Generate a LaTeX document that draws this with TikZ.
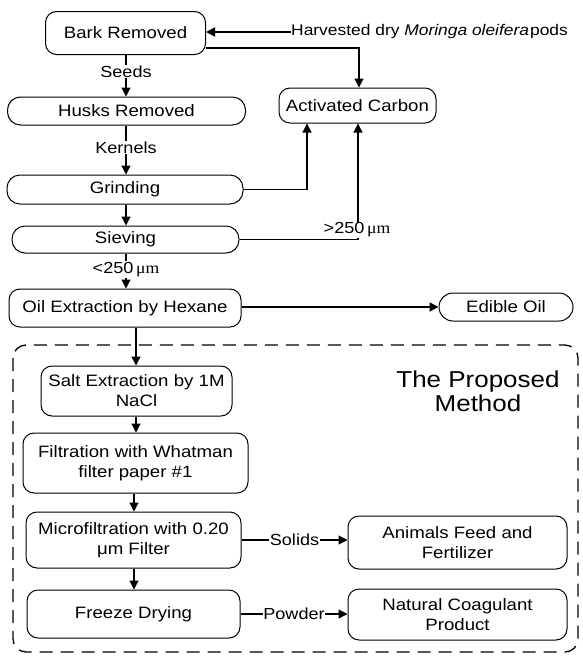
\documentclass[tikz,border=0pt]{standalone}
\usepackage{fontspec}
\setmainfont[FakeStretch=1.13]{Liberation Sans}
\newfontfamily\mufont[FakeStretch=1.1]{Liberation Serif}
\usetikzlibrary{arrows.meta}
\begin{document}
\begin{tikzpicture}[x=1pt,y=-1pt,
  box/.style={draw, line width=1pt, rounded corners=11pt, align=center, inner sep=0pt, font=\fontsize{16.5}{20}\selectfont},
  lbl/.style={fill=white, inner sep=1pt, font=\fontsize{16}{18}\selectfont},
  arr/.style={line width=1.2pt, -{Triangle[length=9pt,width=9pt]}}]
\useasboundingbox (0,0) rectangle (582,656);

% dashed region
\draw[line width=1.3pt, dash pattern=on 13pt off 8pt, rounded corners=13pt] (13,345) rectangle (578,652);

% nodes
\node[box, minimum width=160pt, minimum height=43pt] (bark) at (125.5,33) {Bark Removed};
\node[anchor=west, inner sep=0pt, font=\fontsize{15.4}{17}\selectfont] (harv) at (291,32) {Harvested dry \textit{Moringa oleifera}\hspace{1pt}pods};
\node[box, minimum width=157pt, minimum height=35pt] (ac) at (357.5,105.5) {Activated Carbon};
\node[box, minimum width=238pt, minimum height=28pt, rounded corners=13pt] (husk) at (126.5,111) {Husks Removed};
\node[box, minimum width=236pt, minimum height=29pt, rounded corners=13pt] (grind) at (125,189.5) {Grinding};
\node[box, minimum width=227pt, minimum height=27pt, rounded corners=13pt] (sieve) at (125.5,239.5) {Sieving};
\node[box, minimum width=232pt, minimum height=38pt] (oil) at (125,308) {Oil Extraction by Hexane};
\node[box, minimum width=134pt, minimum height=28pt, rounded corners=14pt] (edible) at (506,307) {Edible Oil};
\node[box, minimum width=191pt, minimum height=50pt] (salt) at (136.5,391) {Salt Extraction by 1M\\NaCl};
\node[align=center, inner sep=0pt, font=\fontsize{23}{24}\selectfont] (title) at (478,391) {The Proposed\\Method};
\node[box, minimum width=225pt, minimum height=60pt] (filt) at (135.5,463) {Filtration with Whatman\\filter paper \#1};
\node[box, minimum width=215pt, minimum height=56pt] (micro) at (133.5,540) {Microfiltration with 0.20\\μm Filter};
\node[box, minimum width=219pt, minimum height=53pt] (animal) at (457.5,542.5) {Animals Feed and\\Fertilizer};
\node[box, minimum width=213pt, minimum height=48pt] (freeze) at (133.5,614) {Freeze Drying};
\node[box, minimum width=219pt, minimum height=51pt] (natural) at (457.5,614.5) {Natural Coagulant\\Product};

% connectors
\draw[arr, line width=1.8pt] (harv.west) -- (bark.east |- harv.west);
\coordinate (c1) at (359,48);
\draw[arr] (bark.east |- c1) -- (c1) -- (c1 |- ac.north);
\coordinate (c2) at (307,189.5);
\draw[arr] (grind.east) -- (c2) -- (c2 |- ac.south);
\coordinate (c3) at (358,239.5);
\draw[arr] (sieve.east) -- (c3) -- (c3 |- ac.south);
\node[lbl] at (357,230) {>250\,{\mufont μm}};

\draw[arr] (bark.south -| 126,0) -- (husk.north -| 126,0) node[lbl, pos=0.4] {Seeds};
\draw[arr] (husk.south -| 126,0) -- (grind.north -| 126,0) node[lbl, pos=0.45] {Kernels};
\draw[arr] (grind.south -| 126,0) -- (sieve.north -| 126,0);
\draw[arr] (sieve.south -| 126,0) -- (oil.north -| 126,0) node[lbl, pos=0.45] {<250\,{\mufont μm}};
\draw[arr, line width=1.8pt] (oil.east |- edible.west) -- (edible.west);
\draw[arr] (oil.south -| 136,0) -- (salt.north -| 136,0);
\draw[arr] (salt.south -| 136,0) -- (filt.north -| 136,0);
\draw[arr] (filt.south -| 134,0) -- (micro.north -| 134,0);
\draw[arr] (micro.south -| 134,0) -- (freeze.north -| 134,0);
\draw[arr] (micro.east) -- (micro.east -| animal.west) node[lbl, midway, inner sep=0.5pt] {Solids};
\draw[arr] (freeze.east) -- (freeze.east -| natural.west) node[lbl, midway, inner sep=0.5pt] {Powder};
\end{tikzpicture}
\end{document}
